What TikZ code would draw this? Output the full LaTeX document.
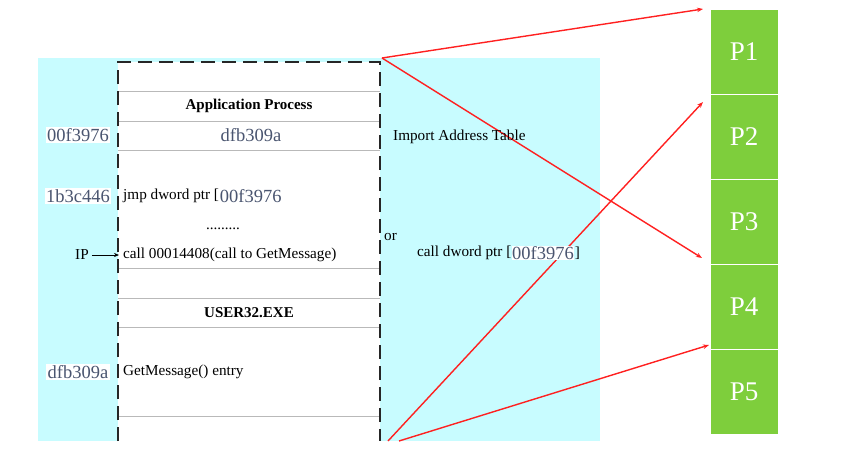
\documentclass[tikz,border=0pt]{standalone}
\usepackage{fontspec}
\setmainfont{Liberation Serif}
\usetikzlibrary{arrows.meta}
\definecolor{cyanbg}{HTML}{C8FCFF}
\definecolor{addr}{HTML}{4A5570}
\definecolor{pgreen}{HTML}{7ECE3C}
\definecolor{redline}{HTML}{FF2020}
\begin{document}
\begin{tikzpicture}[x=1pt,y=-1pt,
 txt/.style={font=\fontsize{15.2}{17}\selectfont, inner sep=0pt, anchor=west},
 hdr/.style={font=\fontsize{15}{17}\selectfont\bfseries, inner sep=0pt},
 addrlbl/.style={font=\fontsize{18.5}{20}\selectfont, text=addr, fill=white, inner sep=1.2pt},
 sep/.style={draw=gray!55, line width=1pt},
 pbox/.style={fill=pgreen, draw=white, line width=1pt, minimum width=68pt, minimum height=85pt, text=white, font=\fontsize{27}{30}\selectfont, inner sep=0pt},
 redarrow/.style={draw=redline, line width=1.4pt, -{Stealth[length=6pt,width=4.5pt]}}]
\useasboundingbox (0,0) rectangle (859,452);
\fill[cyanbg] (38,58) rectangle (600,441);
\fill[white] (118,62) rectangle (380,441);
\foreach \yy in {91,121,150,268,298,327,416} \draw[sep] (118,\yy) -- (380,\yy);
\draw[line width=2.6pt, draw=black!85, dash pattern=on 14pt off 7pt] (118,441) -- (118,62) -- (380,62) -- (380,441);

% process boxes
\node[pbox] (p1) at (744,52) {P1};
\node[pbox] (p2) at (744,137) {P2};
\node[pbox] (p3) at (744,222) {P3};
\node[pbox] (p4) at (744,307) {P4};
\node[pbox] (p5) at (744,392) {P5};

% red arrows
\coordinate (s1) at (382,58);
\coordinate (s2) at (388,441);
\coordinate (s3) at (399,441);
\coordinate (t1) at (703,9);
\coordinate (t2) at (702,258);
\coordinate (t3) at (703,102);
\coordinate (t4) at (709,345);
\draw[redarrow] (s1) -- (t1);
\draw[redarrow] (s1) -- (t2);
\draw[redarrow] (s2) -- (t3);
\draw[redarrow] (s3) -- (t4);

% texts
\node[hdr] (ap) at (249,106) {Application Process};
\node[addrlbl] (a1) at (78,135) {00f3976};
\node[font=\fontsize{18.5}{20}\selectfont, text=addr, inner sep=0pt] (a1v) at (251,135) {dfb309a};
\node[addrlbl] (a2) at (78,196) {1b3c446};
\node[txt] (jmp) at (123,196) {jmp dword ptr [};
\node[addrlbl, anchor=west, inner sep=0.5pt] (jmpa) at (jmp.east) {00f3976};
\node[font=\fontsize{15}{17}\selectfont, inner sep=0pt] (dots) at (223,229) {.........};
\node[txt] (ip) at (75,255) {IP};
\node[txt] (call) at (123,255) {call 00014408(call to GetMessage)};
\draw[-{Stealth[length=5pt,width=4pt]}, line width=0.6pt] ([xshift=3pt]ip.east) -- ([xshift=-4pt]call.west);
\node[txt] (or) at (384,237) {or};
\node[txt] (iat) at (393,137) {Import Address Table};
\node[txt] (cdp) at (417,253) {call dword ptr [};
\node[addrlbl, anchor=west, inner sep=0.5pt] (cdpa) at (cdp.east) {00f3976};
\node[txt] (cdpb) at (cdpa.east) {]};
\node[hdr] (u32) at (249,313) {USER32.EXE};
\node[addrlbl] (a3) at (78,372) {dfb309a};
\node[txt] (gm) at (123,372) {GetMessage() entry};
\end{tikzpicture}
\end{document}
